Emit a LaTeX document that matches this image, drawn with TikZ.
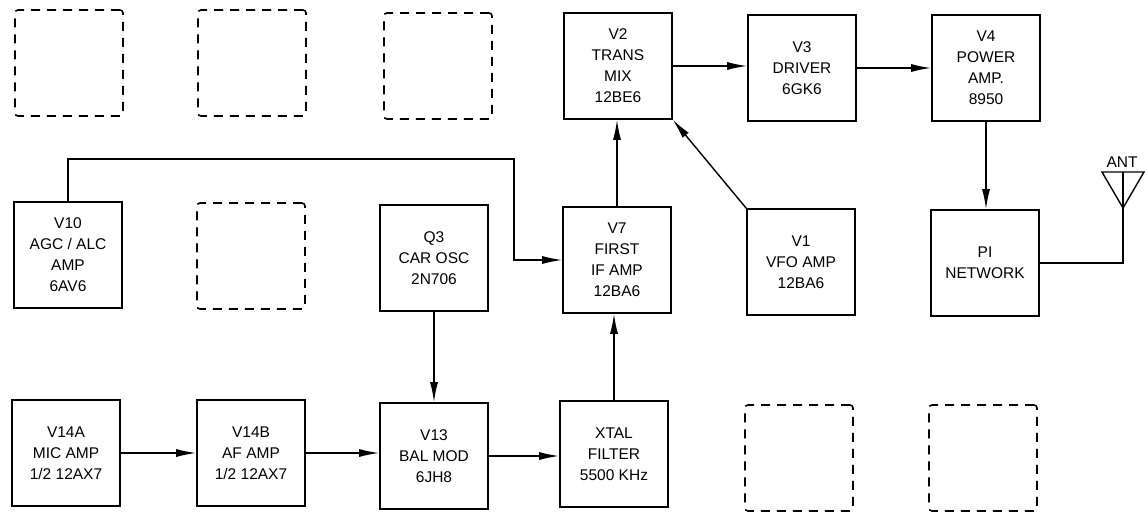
\documentclass[tikz,border=0pt]{standalone}
\usepackage{fontspec}
\setmainfont{Liberation Sans}
\usetikzlibrary{arrows.meta}
\tikzset{
  block/.style={draw, line width=1.6pt, minimum width=108pt, minimum height=106pt, align=center, font=\fontsize{15.5}{21}\selectfont, inner sep=0pt},
  ghost/.style={draw, line width=1.6pt, dash pattern=on 9pt off 7pt, rounded corners=3pt, minimum width=108pt, minimum height=106pt, inner sep=0pt},
  conn/.style={line width=1.4pt, -{Latex[length=20pt,width=8pt]}},
  wire/.style={line width=1.4pt}
}

\begin{document}
\begin{tikzpicture}[x=1pt,y=-1pt]
			%%%%% START %%%%%
			\useasboundingbox (0,0) rectangle (1147,511);
			
			% empty sockets
			\node[ghost] (sockA) at (69,63) {};
			\node[ghost] (sockB) at (252,63) {};
			\node[ghost] (sockC) at (438,66) {};
			\node[ghost] (sockD) at (251,256) {};
			\node[ghost] (sockE) at (799,458) {};
			\node[ghost] (sockF) at (983,458) {};
			
			% top row
			\node[block] (trans) at (618,66) {V2\\TRANS\\MIX\\12BE6};
			\node[block] (driver) at (802,68) {V3\\DRIVER\\6GK6};
			\node[block] (power) at (986,68) {V4\\POWER\\AMP.\\8950};
			
			% middle row
			\node[block] (agc) at (68,255) {V10\\AGC / ALC\\AMP\\6AV6};
			\node[block] (carosc) at (434,258) {Q3\\CAR OSC\\2N706};
			\node[block] (firstif) at (617,260) {V7\\FIRST\\IF AMP\\12BA6};
			\node[block] (vfo) at (801,262) {V1\\VFO AMP\\12BA6};
			\node[block] (pinet) at (985,263) {PI\\NETWORK};
			
			% bottom row
			\node[block] (micamp) at (66,453) {V14A\\MIC AMP\\1/2 12AX7};
			\node[block] (afamp) at (251,453) {V14B\\AF AMP\\1/2 12AX7};
			\node[block] (balmod) at (434,456) {V13\\BAL MOD\\6JH8};
			\node[block] (xtal) at (614,454) {XTAL\\FILTER\\5500 KHz};
			
			% audio chain
			\draw[conn] (micamp.east) -- (afamp.west);
			\draw[conn] (afamp.east) -- (afamp.east -| balmod.west);
			\draw[conn] (carosc.south) -- (balmod.north);
			\draw[conn] (balmod.east) -- (balmod.east -| xtal.west);
			\draw[conn] (xtal.north) -- (xtal.north |- firstif.south);
			
			% rf chain
			\draw[conn] (firstif.north) -- (firstif.north |- trans.south);
			\draw[conn] (vfo.north west) -- (trans.south east);
			\draw[conn] (trans.east) -- (trans.east -| driver.west);
			\draw[conn] (driver.east) -- (driver.east -| power.west);
			\draw[conn] (power.south) -- (power.south |- pinet.north);
			
			% agc loop
			\coordinate (agcturn) at (514,159);
			\draw[conn] (agc.north) |- (agcturn) |- (firstif.west);
			
			% antenna
			\coordinate (ant) at (1123,208);
			\draw[wire] (pinet.east) -| (ant);
			\draw[wire, line join=miter] (1102,172) -- (1144,172) -- (ant) -- cycle;
			\draw[wire] (1123,172) -- (ant);
			\node[font=\fontsize{15.5}{18}\selectfont] (antlabel) at (1122,162) {ANT};
			
			%%%%% END %%%%%
\end{tikzpicture}
\end{document}
